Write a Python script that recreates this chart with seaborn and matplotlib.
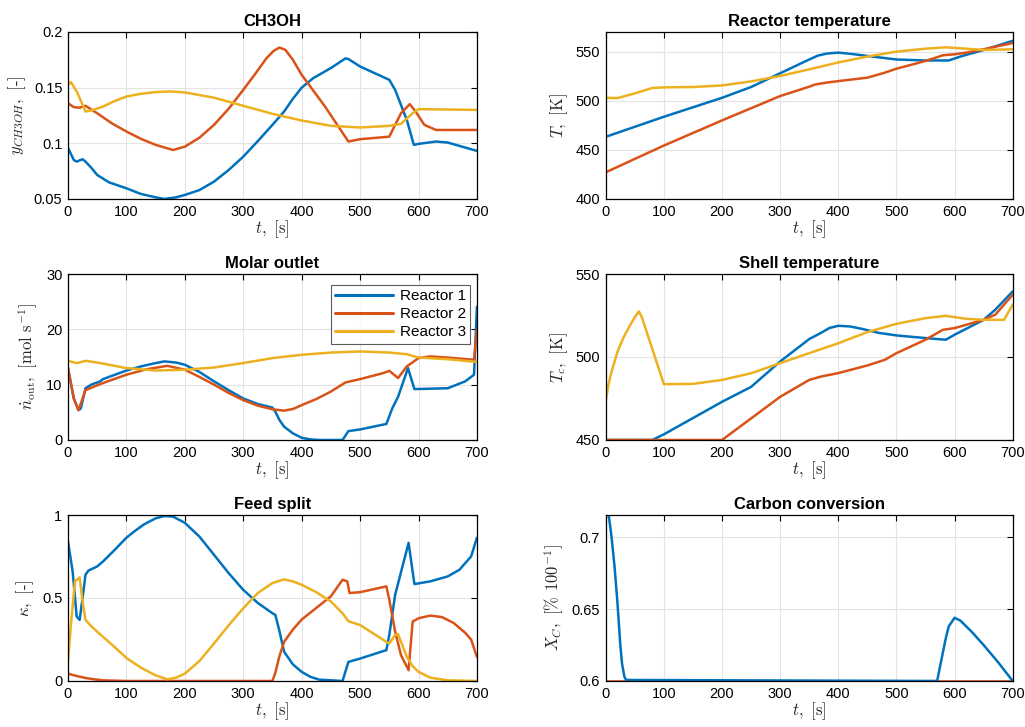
"""
Reactor network dynamics - six panel overview
"""

import numpy as np
import pandas as pd
import matplotlib
matplotlib.use('Agg')
import matplotlib.pyplot as plt
from matplotlib.ticker import FuncFormatter
import seaborn as sns

# MATLAB default colours
C1, C2, C3 = '#0072BD', '#D95319', '#EDB120'
REACTORS = ['Reactor 1', 'Reactor 2', 'Reactor 3']

# CH3OH mole fraction
ch3oh_t1 = [0, 10, 15, 25, 30, 40, 50, 70, 100, 125, 150, 165, 185, 200, 225, 250, 275, 300, 325, 350,
            370, 385, 400, 420, 450, 475, 480, 500, 550, 560, 580, 592, 600, 630, 650, 700]
ch3oh_y1 = [0.096, 0.085, 0.0836, 0.0857, 0.0836, 0.078, 0.0716, 0.065, 0.0596, 0.0545, 0.0515, 0.050,
            0.0515, 0.0536, 0.058, 0.0656, 0.076, 0.088, 0.102, 0.1166, 0.1286, 0.140, 0.150, 0.1586,
            0.1676, 0.1763, 0.1757, 0.169, 0.157, 0.148, 0.121, 0.0986, 0.0995, 0.1016, 0.1007, 0.0932]
ch3oh_t2 = [0, 10, 20, 30, 50, 75, 100, 125, 150, 180, 200, 225, 250, 275, 300, 320, 340, 352, 362, 372,
            385, 400, 440, 480, 500, 550, 570, 585, 595, 610, 630, 700]
ch3oh_y2 = [0.136, 0.1325, 0.132, 0.1337, 0.127, 0.118, 0.1106, 0.104, 0.0986, 0.094, 0.097, 0.105,
            0.1166, 0.131, 0.148, 0.162, 0.1766, 0.183, 0.186, 0.184, 0.175, 0.1616, 0.133, 0.1016,
            0.1037, 0.106, 0.127, 0.1352, 0.1286, 0.1166, 0.112, 0.112]
ch3oh_t3 = [0, 5, 15, 30, 40, 60, 80, 100, 125, 150, 175, 200, 250, 300, 350, 400, 450, 500, 550, 570,
            590, 600, 700]
ch3oh_y3 = [0.1526, 0.155, 0.1466, 0.1286, 0.1295, 0.133, 0.138, 0.142, 0.1445, 0.146, 0.1466, 0.1457,
            0.141, 0.1337, 0.1265, 0.1205, 0.1157, 0.1142, 0.1157, 0.1175, 0.127, 0.1307, 0.130]

# Reactor temperature [K]
temp_t1 = [0, 50, 100, 200, 250, 300, 350, 365, 380, 400, 425, 450, 500, 550, 590, 610, 650, 700]
temp_y1 = [463.3, 473.5, 483.7, 503, 514, 528, 542, 546, 548, 549, 547.5, 545.6, 542, 541, 541, 545,
           551.7, 561]
temp_t2 = [0, 100, 200, 300, 330, 350, 360, 380, 400, 450, 480, 500, 550, 580, 600, 620, 650, 700]
temp_y2 = [427.2, 454.4, 480, 504.8, 510.5, 514.3, 516.5, 518.5, 520, 523.5, 528.6, 532.6, 540.5,
           546.3, 547.3, 549, 552.4, 558.8]
temp_t3 = [0, 20, 50, 80, 100, 150, 200, 250, 300, 350, 400, 450, 500, 550, 585, 620, 650, 700]
temp_y3 = [503, 502.7, 507.5, 513, 513.6, 514, 515.6, 519.7, 525.2, 532, 539, 545, 550, 553, 554.4,
           553, 551.7, 552.4]

# Molar outlet [mol/s]
flow_t1 = [0, 10, 18, 22, 30, 40, 55, 60, 100, 125, 150, 165, 185, 200, 225, 250, 275, 300, 325, 350,
           355, 362, 370, 385, 400, 415, 430, 470, 480, 500, 545, 555, 565, 582, 593, 650, 680, 695, 700]
flow_y1 = [13.0, 7.5, 5.4, 5.7, 9.35, 10.0, 10.6, 11.0, 12.55, 13.3, 13.9, 14.2, 14.0, 13.6, 12.3, 10.6,
           9.0, 7.5, 6.5, 5.85, 5.1, 3.6, 2.4, 1.2, 0.4, 0.1, 0.0, 0.0, 1.6, 1.9, 2.9, 5.7, 7.8, 13.0,
           9.2, 9.35, 10.6, 11.8, 24.1]
flow_t2 = [0, 10, 18, 30, 55, 100, 135, 170, 200, 225, 250, 275, 300, 325, 350, 370, 385, 400, 425,
           450, 475, 500, 540, 550, 565, 580, 600, 620, 650, 695, 700]
flow_y2 = [13.0, 7.5, 5.4, 9.0, 10.1, 11.8, 12.8, 13.4, 12.7, 11.4, 10.0, 8.5, 7.2, 6.2, 5.55, 5.3,
           5.6, 6.3, 7.4, 8.75, 10.4, 11.0, 12.1, 12.5, 11.2, 13.3, 14.8, 15.1, 14.9, 14.5, 19.9]
flow_t3 = [0, 15, 30, 50, 100, 150, 200, 250, 300, 350, 400, 450, 500, 550, 580, 600, 650, 700]
flow_y3 = [14.3, 13.9, 14.3, 14.0, 13.0, 12.55, 12.7, 13.1, 13.9, 14.8, 15.4, 15.8, 16.0, 15.8, 15.5,
           14.9, 14.6, 14.1]

# Shell temperature [K]
shell_t1 = [0, 80, 100, 200, 250, 300, 350, 370, 385, 400, 420, 440, 470, 500, 550, 585, 600, 650,
            670, 700]
shell_y1 = [450, 450, 453.4, 473, 482, 497.3, 510.8, 514.5, 517.5, 518.8, 518.4, 517, 514.5, 513,
            511.4, 510.4, 513.4, 522.4, 528.5, 539.5]
shell_t2 = [0, 200, 250, 300, 350, 370, 400, 450, 480, 500, 550, 580, 600, 650, 670, 700]
shell_y2 = [450, 450, 463, 476, 486.2, 488.2, 490.3, 494.9, 498.3, 502.3, 510.4, 516.4, 517.4, 522.4,
            525.5, 537.5]
shell_t3 = [0, 5, 10, 20, 30, 40, 50, 57, 62, 100, 150, 200, 250, 300, 350, 400, 450, 500, 550, 585,
            620, 650, 685, 700]
shell_y3 = [473.7, 484, 491.2, 503, 511.4, 518, 524, 527.5, 524, 483.6, 483.8, 486.2, 490.2, 496.3,
            502.3, 508.3, 515, 520, 523.4, 524.8, 523, 522.4, 522.4, 531.5]

# Feed split [-]
split_t1 = [0, 8, 15, 20, 25, 30, 35, 50, 60, 80, 100, 115, 130, 150, 165, 180, 200, 225, 250, 275,
            300, 325, 350, 355, 362, 370, 385, 400, 415, 430, 470, 480, 500, 545, 550, 560, 583, 593,
            620, 650, 670, 690, 700]
split_y1 = [0.842, 0.66, 0.388, 0.368, 0.5, 0.64, 0.665, 0.69, 0.72, 0.79, 0.863, 0.905, 0.943, 0.98,
            0.994, 0.99, 0.953, 0.87, 0.76, 0.65, 0.549, 0.47, 0.408, 0.398, 0.30, 0.176, 0.10, 0.055,
            0.025, 0.008, 0.0, 0.115, 0.135, 0.186, 0.277, 0.519, 0.832, 0.584, 0.60, 0.63, 0.67,
            0.75, 0.863]
split_t2 = [0, 15, 30, 45, 60, 100, 350, 355, 362, 370, 385, 400, 425, 450, 470, 478, 482, 500, 545,
            550, 560, 570, 583, 590, 600, 620, 640, 660, 680, 690, 700]
split_y2 = [0.044, 0.03, 0.018, 0.01, 0.004, 0.0, 0.0, 0.05, 0.15, 0.236, 0.31, 0.37, 0.44, 0.51,
            0.61, 0.6, 0.53, 0.535, 0.57, 0.49, 0.297, 0.156, 0.065, 0.358, 0.378, 0.394, 0.385, 0.35,
            0.29, 0.25, 0.145]
split_t3 = [0, 5, 12, 20, 25, 30, 40, 50, 75, 100, 125, 150, 170, 185, 200, 225, 250, 275, 300, 325,
            350, 370, 385, 400, 425, 450, 470, 480, 500, 545, 550, 560, 565, 580, 590, 600, 620, 650,
            700]
split_y3 = [0.115, 0.337, 0.6, 0.624, 0.48, 0.368, 0.33, 0.297, 0.22, 0.139, 0.08, 0.034, 0.01, 0.02,
            0.044, 0.12, 0.226, 0.335, 0.438, 0.53, 0.59, 0.612, 0.60, 0.58, 0.535, 0.479, 0.408, 0.36,
            0.337, 0.236, 0.226, 0.277, 0.283, 0.145, 0.09, 0.055, 0.02, 0.004, 0.0]

# Carbon conversion [%/100] and its lower bound
conv_t = [0, 5, 10, 15, 20, 25, 28, 32, 35, 570, 580, 585, 590, 600, 610, 630, 650, 675, 700]
conv_y = [0.72, 0.7155, 0.70, 0.68, 0.655, 0.625, 0.612, 0.603, 0.6007, 0.6, 0.62, 0.63, 0.638, 0.644,
          0.642, 0.634, 0.625, 0.613, 0.6]
conv_bound_t = [0, 700]
conv_bound_y = [0.6, 0.6]

sns.set_theme(style='whitegrid')
plt.rcParams['font.family'] = ['Liberation Sans', 'DejaVu Sans']
plt.rcParams['mathtext.fontset'] = 'cm'
plt.rcParams['text.color'] = 'black'
plt.rcParams['axes.labelcolor'] = '#262626'

fig = plt.figure(figsize=(10.25, 7.27), dpi=100)

left_x, right_x = 0.0663, 0.591
widths = (0.399, 0.397)
rows = [(0.7263, 0.2297), (0.3948, 0.2283), (0.0633, 0.2283)]


def make_ax(col, row):
    bottom, height = rows[row]
    x0 = left_x if col == 0 else right_x
    return fig.add_axes([x0, bottom, widths[col], height])


def draw(ax, t, y, color, label=None, lw=1.8):
    df = pd.DataFrame({'t': t, 'y': y})
    sns.lineplot(data=df, x='t', y='y', ax=ax, color=color, lw=lw, label=label,
                 estimator=None, sort=False, legend=False)


def style(ax, title, ylabel, ylim, yticks):
    ax.set_facecolor('white')
    ax.set_xlim(0, 700)
    ax.set_xticks(np.arange(0, 701, 100))
    ax.set_ylim(*ylim)
    ax.set_yticks(yticks)
    ax.yaxis.set_major_formatter(FuncFormatter(lambda v, p: f'{v:g}'))
    ax.grid(True, color='#e3e3e3', lw=0.8)
    for s in ax.spines.values():
        s.set_color('black')
        s.set_linewidth(0.9)
    ax.tick_params(direction='in', top=True, right=True, length=4, width=0.8,
                   colors='black', labelsize=10.5, pad=4)
    ax.set_title(title, fontsize=12, fontweight='bold', pad=4, color='black')
    ax.set_xlabel(r'$t,\ [\mathrm{s}]$', fontsize=12, labelpad=0)
    # plain text in cmr10 so that "-" stays a short hyphen
    ax.set_ylabel(ylabel, fontsize=12, labelpad=4, family=['cmr10'])


ax = make_ax(0, 0)
draw(ax, ch3oh_t1, ch3oh_y1, C1)
draw(ax, ch3oh_t2, ch3oh_y2, C2)
draw(ax, ch3oh_t3, ch3oh_y3, C3)
style(ax, 'CH3OH', r'$y_{CH3OH},$ [-]', (0.05, 0.2), [0.05, 0.1, 0.15, 0.2])

ax = make_ax(1, 0)
draw(ax, temp_t1, temp_y1, C1)
draw(ax, temp_t2, temp_y2, C2)
draw(ax, temp_t3, temp_y3, C3)
style(ax, 'Reactor temperature', r'$T,$ [K]', (400, 570), [400, 450, 500, 550])

ax = make_ax(0, 1)
draw(ax, flow_t1, flow_y1, C1, REACTORS[0])
draw(ax, flow_t2, flow_y2, C2, REACTORS[1])
draw(ax, flow_t3, flow_y3, C3, REACTORS[2])
style(ax, 'Molar outlet', r'$\dot{n}_{\mathrm{out}},$ [mol s$^{-1}$]', (0, 30), [0, 10, 20, 30])
leg = ax.legend(loc='upper right', bbox_to_anchor=(0.995, 0.962), fontsize=11, frameon=True,
                fancybox=False, handlelength=3.8, borderpad=0.3, labelspacing=0.25,
                handletextpad=0.4, borderaxespad=0.3)
leg.get_frame().set_edgecolor('#333333')
leg.get_frame().set_linewidth(0.8)
for line in leg.get_lines():
    line.set_linewidth(2.2)

ax = make_ax(1, 1)
draw(ax, shell_t1, shell_y1, C1)
draw(ax, shell_t2, shell_y2, C2)
draw(ax, shell_t3, shell_y3, C3)
style(ax, 'Shell temperature', r'$T_c,$ [K]', (450, 550), [450, 500, 550])

ax = make_ax(0, 2)
draw(ax, split_t1, split_y1, C1)
draw(ax, split_t2, split_y2, C2)
draw(ax, split_t3, split_y3, C3)
style(ax, 'Feed split', r'$\kappa,$ [-]', (0, 1), [0, 0.5, 1])

ax = make_ax(1, 2)
draw(ax, conv_bound_t, conv_bound_y, C2, lw=1.2)
draw(ax, conv_t, conv_y, C1)
style(ax, 'Carbon conversion', r'$X_C,$ [% 100$^{-1}$]', (0.6, 0.7155), [0.6, 0.65, 0.7])

fig.savefig('out.png', dpi=100)
